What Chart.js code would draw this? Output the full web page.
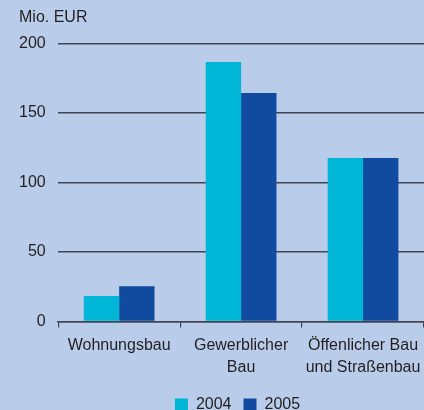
<!DOCTYPE html>
<html>
<head>
<meta charset="utf-8">
<script src="https://cdn.jsdelivr.net/npm/chart.js@4"></script>
<style>
  html, body { margin: 0; padding: 0; background: #b9cdea; }
  #wrap { width: 424px; height: 410px; position: relative; }
</style>
</head>
<body>
<div id="wrap"><canvas id="chart"></canvas></div>
<script>
const categories = [["Wohnungsbau"], ["Gewerblicher", "Bau"], ["Öffenlicher Bau", "und Straßenbau"]];
const series2004 = [18.4, 186.5, 117.5];
const series2005 = [25.4, 164.2, 117.5];
const seriesNames = ["2004", "2005"];
const yTicks = [0, 50, 100, 150, 200];

const textColor = "#231f20";
const lineColor = "#414553";

Chart.defaults.font.family = "'Liberation Sans', Arial, sans-serif";
Chart.defaults.font.size = 16;
Chart.defaults.color = textColor;

// nudge the legend a bit to the right, like the original
const legendShift = {
  id: "legendShift",
  afterLayout(chart) {
    chart.legend.left += 16;
    chart.legend.right += 16;
  },
};

new Chart(document.getElementById("chart"), {
  type: "bar",
  data: {
    labels: categories,
    datasets: [
      { label: seriesNames[0], data: series2004, backgroundColor: "#00b6d6" },
      { label: seriesNames[1], data: series2005, backgroundColor: "#104b9f" },
    ],
  },
  options: {
    responsive: true,
    maintainAspectRatio: false,
    animation: false,
    categoryPercentage: 0.58,
    barPercentage: 1,
    layout: { padding: { left: 19, right: 0, top: 0, bottom: -13 } },
    plugins: {
      title: {
        display: true,
        text: "Mio. EUR",
        align: "start",
        color: textColor,
        font: { size: 16, weight: "normal" },
        padding: { top: 8, bottom: 16.1 },
      },
      legend: {
        position: "bottom",
        labels: {
          boxWidth: 13,
          boxHeight: 13,
          padding: 12,
          color: textColor,
          font: { size: 16 },
        },
      },
      tooltip: { enabled: false },
    },
    scales: {
      y: {
        min: yTicks[0],
        max: yTicks[yTicks.length - 1],
        afterBuildTicks: (scale) => {
          scale.ticks = yTicks.map((v) => ({ value: v }));
        },
        // chart.js counts tick padding twice, only keep one
        afterFit: (scale) => {
          scale.width -= 12.5;
        },
        border: { display: false },
        grid: { color: lineColor, drawTicks: false, lineWidth: 1.5 },
        ticks: { padding: 12.5, color: textColor },
      },
      x: {
        border: { display: true, color: lineColor, width: 1.5 },
        grid: {
          offset: true,
          drawOnChartArea: false,
          drawTicks: true,
          tickLength: 6,
          color: lineColor,
          lineWidth: 1.2,
        },
        ticks: {
          padding: 7,
          maxRotation: 0,
          color: textColor,
          font: { size: 16, lineHeight: 1.375 },
        },
        afterFit: (scale) => {
          scale.height -= 0.6;
          scale.paddingLeft = 0;
          scale.paddingRight = 0;
        },
      },
    },
  },
  plugins: [legendShift],
});
</script>
</body>
</html>
